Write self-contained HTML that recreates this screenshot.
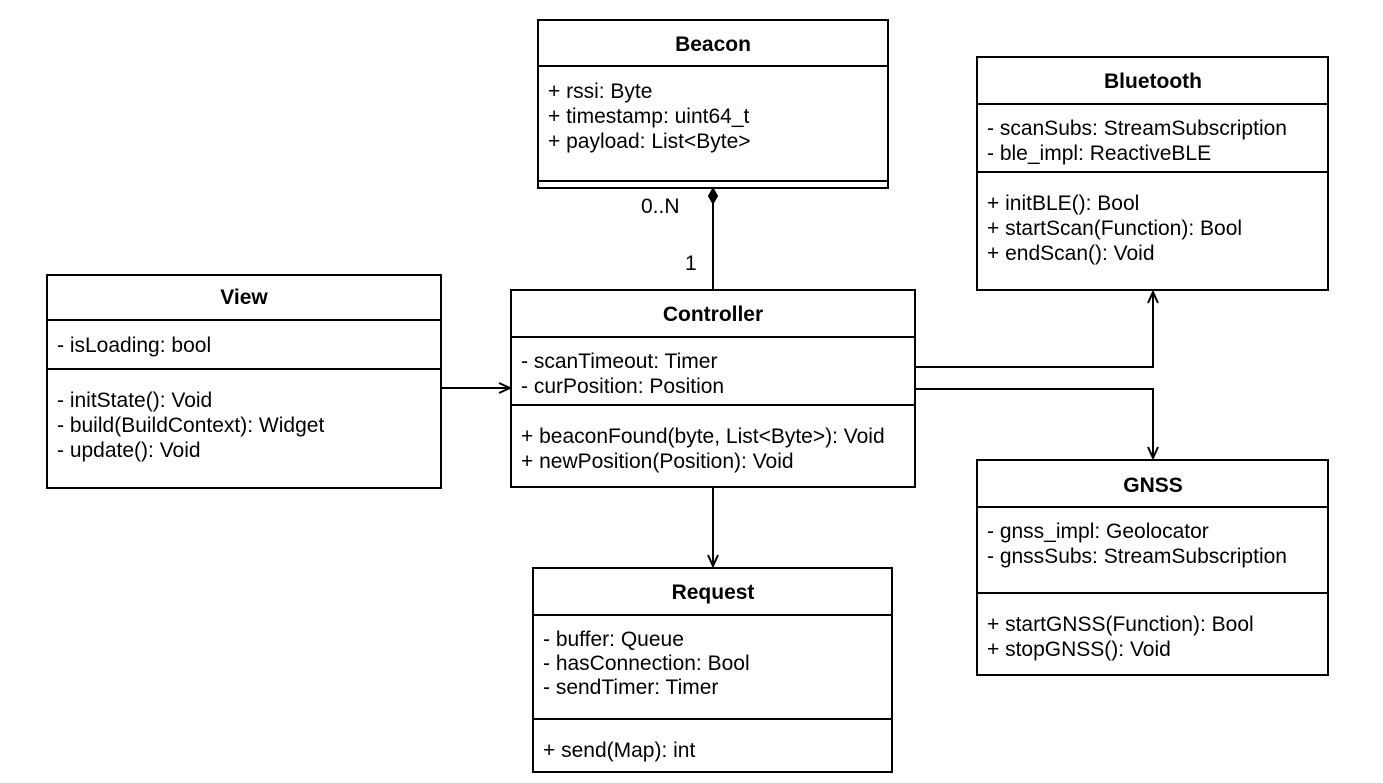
<!DOCTYPE html>
<html><head><meta charset="utf-8"><style>
html,body{margin:0;padding:0;background:#fff;}
svg{display:block;}
text{font-family:"Liberation Sans",Arial,sans-serif;font-size:21px;fill:#000;}
.t{font-weight:bold;text-anchor:middle;}
rect,line,path{stroke:#000;stroke-width:2;fill:none;}
</style></head><body>
<svg width="1383" height="783" viewBox="0 0 1383 783">
<!-- Beacon -->
<rect x="538" y="20" width="350" height="168"/>
<line x1="538" y1="66" x2="888" y2="66"/>
<line x1="538" y1="181" x2="888" y2="181"/>
<text class="t" x="713" y="51">Beacon</text>
<text x="548" y="98">+ rssi: Byte</text>
<text x="548" y="123">+ timestamp: uint64_t</text>
<text x="548" y="148">+ payload: List&lt;Byte&gt;</text>

<!-- Bluetooth -->
<rect x="977" y="57" width="351" height="233"/>
<line x1="977" y1="104" x2="1328" y2="104"/>
<line x1="977" y1="172" x2="1328" y2="172"/>
<text class="t" x="1153" y="88">Bluetooth</text>
<text x="987" y="135">- scanSubs: StreamSubscription</text>
<text x="987" y="160">- ble_impl: ReactiveBLE</text>
<text x="987" y="210">+ initBLE(): Bool</text>
<text x="987" y="235">+ startScan(Function): Bool</text>
<text x="987" y="260">+ endScan(): Void</text>

<!-- View -->
<rect x="47" y="275" width="394" height="213"/>
<line x1="47" y1="320" x2="441" y2="320"/>
<line x1="47" y1="369" x2="441" y2="369"/>
<text class="t" x="244" y="304">View</text>
<text x="57" y="352">- isLoading: bool</text>
<text x="57" y="407">- initState(): Void</text>
<text x="57" y="432">- build(BuildContext): Widget</text>
<text x="57" y="457">- update(): Void</text>

<!-- Controller -->
<rect x="511" y="290" width="404" height="197"/>
<line x1="511" y1="337" x2="915" y2="337"/>
<line x1="511" y1="405" x2="915" y2="405"/>
<text class="t" x="713" y="321">Controller</text>
<text x="521" y="368">- scanTimeout: Timer</text>
<text x="521" y="393">- curPosition: Position</text>
<text x="521" y="443">+ beaconFound(byte, List&lt;Byte&gt;): Void</text>
<text x="521" y="468">+ newPosition(Position): Void</text>

<!-- Request -->
<rect x="533" y="568" width="359" height="204"/>
<line x1="533" y1="615" x2="892" y2="615"/>
<line x1="533" y1="719" x2="892" y2="719"/>
<text class="t" x="713" y="599">Request</text>
<text x="543" y="646">- buffer: Queue</text>
<text x="543" y="670">- hasConnection: Bool</text>
<text x="543" y="694">- sendTimer: Timer</text>
<text x="543" y="757">+ send(Map): int</text>

<!-- GNSS -->
<rect x="977" y="460" width="351" height="215"/>
<line x1="977" y1="507" x2="1328" y2="507"/>
<line x1="977" y1="593" x2="1328" y2="593"/>
<text class="t" x="1153" y="492">GNSS</text>
<text x="987" y="538">- gnss_impl: Geolocator</text>
<text x="987" y="563">- gnssSubs: StreamSubscription</text>
<text x="987" y="631">+ startGNSS(Function): Bool</text>
<text x="987" y="656">+ stopGNSS(): Void</text>

<!-- Beacon-Controller composition -->
<line x1="713" y1="203" x2="713" y2="290"/>
<path d="M713 189 L717 196 L713 203 L709 196 Z" style="fill:#000"/>
<text x="641" y="213">0..N</text>
<text x="685" y="270">1</text>

<!-- View -> Controller -->
<line x1="441" y1="388" x2="510" y2="388"/>
<path d="M499 383 L510 388 L499 393"/>

<!-- Controller -> Bluetooth -->
<path d="M915 367 L1153 367 L1153 292"/>
<path d="M1148 303 L1153 292 L1158 303"/>

<!-- Controller -> GNSS -->
<path d="M915 389 L1153 389 L1153 458"/>
<path d="M1148 447 L1153 458 L1158 447"/>

<!-- Controller -> Request -->
<line x1="713" y1="487" x2="713" y2="566"/>
<path d="M708 555 L713 566 L718 555"/>
</svg>
</body></html>
